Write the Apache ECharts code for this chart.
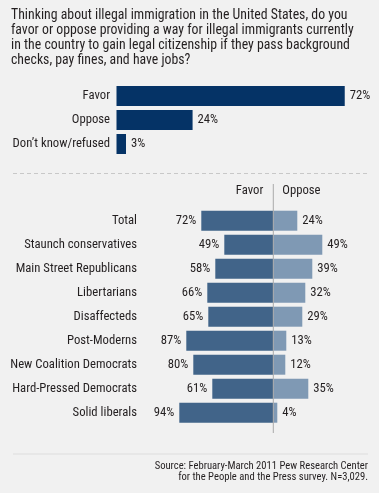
<!DOCTYPE html>
<html><head><meta charset="utf-8">
<script src="https://cdn.jsdelivr.net/npm/echarts@6/dist/echarts.min.js"></script>
<style>html,body{margin:0;padding:0;background:#fff}#c{width:381px;height:497px}</style>
</head><body><div id="c"></div>
<script>
var titleLines = [
  "Thinking about illegal immigration in the United States, do you",
  "favor or oppose providing a way for illegal immigrants currently",
  "in the country to gain legal citizenship if they pass background",
  "checks, pay fines, and have jobs?"
];
var topCategories = ["Favor", "Oppose", "Don\u2019t know/refused"];
var topValues = [72, 24, 3];

var groupCategories = ["Total", "Staunch conservatives", "Main Street Republicans", "Libertarians", "Disaffecteds", "Post-Moderns", "New Coalition Democrats", "Hard-Pressed Democrats", "Solid liberals"];
var favorValues = [72, 49, 58, 66, 65, 87, 80, 61, 94];
var opposeValues = [24, 49, 39, 32, 29, 13, 12, 35, 4];
var sourceLines = ["Source: February-March 2011 Pew Research Center", "for the People and the Press survey. N=3,029."];

var FONT = "'Roboto Condensed', Lato, sans-serif";
var FS = 12.7;
var TXT = "#231f20";

var chart = echarts.init(document.getElementById('c'), null, {renderer: 'canvas'});
var option = {
  backgroundColor: '#ffffff',
  animation: false,
  textStyle: {fontFamily: FONT},
  grid: [
    {left: 116.5, top: 84, width: 317, height: 72, containLabel: false, outerBoundsMode: 'none'},
    {left: 173.3, top: 208.7, width: 200, height: 216, containLabel: false, outerBoundsMode: 'none'}
  ],
  xAxis: [
    {gridIndex: 0, type: 'value', min: 0, max: 100, show: false},
    {gridIndex: 1, type: 'value', min: -100, max: 100, show: false}
  ],
  yAxis: [
    {gridIndex: 0, type: 'category', data: topCategories, inverse: true,
     axisLine: {show: false}, axisTick: {show: false}, splitLine: {show: false},
     axisLabel: {margin: 6.5, color: TXT, fontSize: FS, fontFamily: FONT}},
    {gridIndex: 1, type: 'category', data: groupCategories, inverse: true,
     axisLine: {show: false, onZero: false}, axisTick: {show: false}, splitLine: {show: false},
     axisLabel: {margin: 36.3, color: TXT, fontSize: FS, fontFamily: FONT}}
  ],
  series: [
    {type: 'bar', xAxisIndex: 0, yAxisIndex: 0, data: topValues, barWidth: 20,
     itemStyle: {color: '#053366'},
     label: {show: true, position: 'right', distance: 5, color: TXT, fontSize: FS, fontFamily: FONT,
             formatter: function(p){return p.value + '%';}}},
    {type: 'bar', xAxisIndex: 1, yAxisIndex: 1, stack: 'g', barWidth: 20,
     data: favorValues.map(function(v){return -v;}),
     itemStyle: {color: '#416489'},
     label: {show: true, position: 'left', distance: 5, color: TXT, fontSize: FS, fontFamily: FONT,
             formatter: function(p){return Math.abs(p.value) + '%';}}},
    {type: 'bar', xAxisIndex: 1, yAxisIndex: 1, stack: 'g', barWidth: 20,
     data: opposeValues,
     itemStyle: {color: '#7f99b4'},
     label: {show: true, position: 'right', distance: 5, color: TXT, fontSize: FS, fontFamily: FONT,
             formatter: function(p){return p.value + '%';}}}
  ]
};
chart.setOption(option);

var zeroX = chart.convertToPixel({xAxisIndex: 1}, 0);
var g = [
  {type: 'rect', z: -10, shape: {x: 0, y: 0, width: 379, height: 493}, style: {fill: '#f1f1f1'}},
  {type: 'text', x: 11, y: 8, style: {text: titleLines.join('\n'), font: '13.8px ' + FONT, fill: TXT, lineHeight: 15}},
  {type: 'line', shape: {x1: 13, y1: 173.5, x2: 368, y2: 173.5}, style: {stroke: '#c8c8c8', lineWidth: 1, lineDash: [4, 3]}},
  {type: 'line', z: 10, shape: {x1: zeroX, y1: 184, x2: zeroX, y2: 433}, style: {stroke: '#aaaaaa', lineWidth: 1}},
  {type: 'text', x: zeroX - 10, y: 191, style: {text: 'Favor', font: FS + 'px ' + FONT, fill: TXT, align: 'right', verticalAlign: 'middle'}},
  {type: 'text', x: zeroX + 9, y: 191, style: {text: 'Oppose', font: FS + 'px ' + FONT, fill: TXT, align: 'left', verticalAlign: 'middle'}},
  {type: 'line', shape: {x1: 13, y1: 454, x2: 368, y2: 454}, style: {stroke: '#dddddd', lineWidth: 1}},
  {type: 'text', x: 368, y: 471.5, style: {text: sourceLines.join('\n'), font: '10.6px ' + FONT, fill: TXT, align: 'right', verticalAlign: 'middle', lineHeight: 11}}
];
chart.setOption({graphic: g});
</script></body></html>
